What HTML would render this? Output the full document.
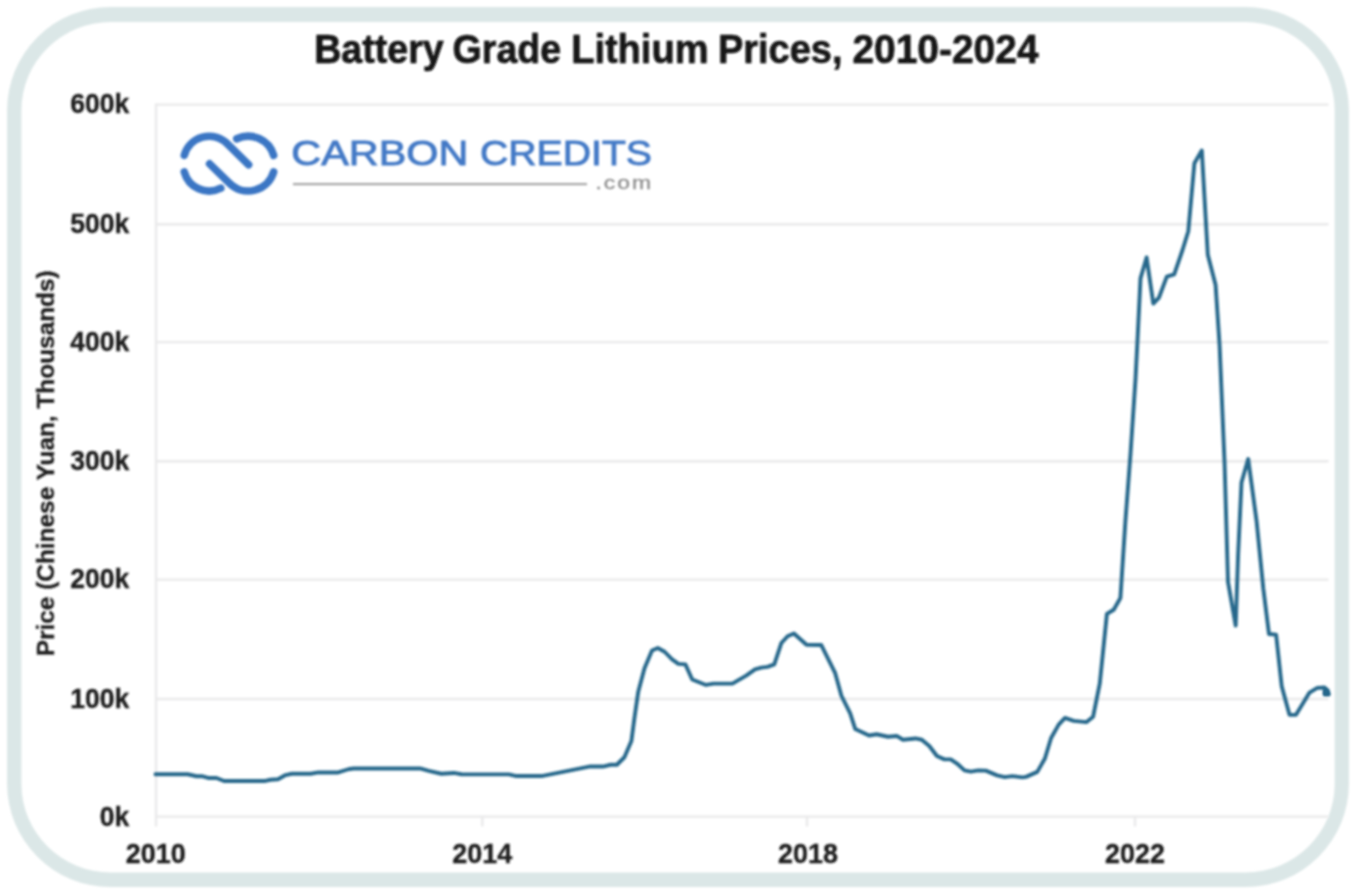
<!DOCTYPE html>
<html>
<head>
<meta charset="utf-8">
<title>Battery Grade Lithium Prices, 2010-2024</title>
<style>
  html, body { margin: 0; padding: 0; background: #ffffff; }
  body { width: 1354px; height: 892px; overflow: hidden; font-family: "Liberation Sans", sans-serif; }
  svg { display: block; }
  text { font-family: "Liberation Sans", sans-serif; }
</style>
</head>
<body>
<svg width="1354" height="892" viewBox="0 0 1354 892">
  <defs>
    <filter id="soft" filterUnits="userSpaceOnUse" x="0" y="0" width="1354" height="892"><feGaussianBlur stdDeviation="1.0"/></filter>
    <filter id="softl" filterUnits="userSpaceOnUse" x="0" y="0" width="1354" height="892"><feGaussianBlur stdDeviation="1.2"/></filter>
    <filter id="soft2" filterUnits="userSpaceOnUse" x="0" y="0" width="1354" height="892"><feGaussianBlur stdDeviation="0.85"/></filter>
    <filter id="softb" filterUnits="userSpaceOnUse" x="0" y="0" width="1354" height="892"><feGaussianBlur stdDeviation="0.8"/></filter>
    <filter id="softg" filterUnits="userSpaceOnUse" x="0" y="0" width="1354" height="892"><feGaussianBlur stdDeviation="1.2"/></filter>
  </defs>
  <rect x="0" y="0" width="1354" height="892" fill="#ffffff"/>
  <!-- rounded frame -->
  <path fill="#dbe7e7" fill-rule="evenodd" filter="url(#softb)" d="M110.6 6.9 H1245.4 A103.5 103.5 0 0 1 1348.9 110.4 V783.6 A103.5 103.5 0 0 1 1245.4 887.1 H110.6 A103.5 103.5 0 0 1 7.1 783.6 V110.4 A103.5 103.5 0 0 1 110.6 6.9 Z M110.6 22.05 H1245.5 A89.2 88.4 0 0 1 1334.7 110.45 V784.0 A89.2 88.4 0 0 1 1245.5 872.4 H110.6 A89.2 88.4 0 0 1 21.4 784.0 V110.45 A89.2 88.4 0 0 1 110.6 22.05 Z"/>

  <!-- grid -->
  <g stroke="#e9e9ea" stroke-width="2.4" filter="url(#softg)">
    <line x1="156" y1="104.6" x2="1328.5" y2="104.6"/>
    <line x1="156" y1="224.3" x2="1328.5" y2="224.3"/>
    <line x1="156" y1="342.1" x2="1328.5" y2="342.1"/>
    <line x1="156" y1="461.2" x2="1328.5" y2="461.2"/>
    <line x1="156" y1="579.6" x2="1328.5" y2="579.6"/>
    <line x1="156" y1="699.0" x2="1328.5" y2="699.0"/>
    <line x1="156" y1="816.65" x2="1328.5" y2="816.65"/>
    <line x1="156" y1="103.5" x2="156" y2="826.5"/>
    <line x1="482.3" y1="816" x2="482.3" y2="826.5"/>
    <line x1="807" y1="816" x2="807" y2="826.5"/>
    <line x1="1135" y1="816" x2="1135" y2="826.5"/>
  </g>

  <!-- title -->
  <g font-size="40" font-weight="700" fill="#121212" stroke="#121212" stroke-width="0.6" filter="url(#soft)">
    <text x="314.17" y="62.5" textLength="129.64" lengthAdjust="spacingAndGlyphs">Battery</text>
    <text x="452.57" y="62.5" textLength="108.65" lengthAdjust="spacingAndGlyphs">Grade</text>
    <text x="571.16" y="62.5" textLength="137.30" lengthAdjust="spacingAndGlyphs">Lithium</text>
    <text x="717.96" y="62.5" textLength="124.58" lengthAdjust="spacingAndGlyphs">Prices,</text>
    <text x="852.40" y="62.5" textLength="186.20" lengthAdjust="spacingAndGlyphs">2010-2024</text>
  </g>

  <!-- y labels -->
  <g font-size="27" font-weight="700" fill="#1e1e1e" stroke="#1e1e1e" stroke-width="0.35" text-anchor="end" filter="url(#soft)">
    <text x="129.3" y="113.4" textLength="59" lengthAdjust="spacingAndGlyphs">600k</text>
    <text x="129.3" y="233.1" textLength="59" lengthAdjust="spacingAndGlyphs">500k</text>
    <text x="129.3" y="350.9" textLength="59" lengthAdjust="spacingAndGlyphs">400k</text>
    <text x="129.3" y="470.0" textLength="59" lengthAdjust="spacingAndGlyphs">300k</text>
    <text x="129.3" y="588.4" textLength="59" lengthAdjust="spacingAndGlyphs">200k</text>
    <text x="129.3" y="707.8" textLength="59" lengthAdjust="spacingAndGlyphs">100k</text>
    <text x="129.3" y="825.5" textLength="29.5" lengthAdjust="spacingAndGlyphs">0k</text>
  </g>

  <!-- x labels -->
  <g font-size="27" font-weight="700" fill="#1e1e1e" stroke="#1e1e1e" stroke-width="0.35" text-anchor="middle" filter="url(#soft)">
    <text x="155.7" y="862.7" textLength="60" lengthAdjust="spacingAndGlyphs">2010</text>
    <text x="482.3" y="862.7" textLength="60" lengthAdjust="spacingAndGlyphs">2014</text>
    <text x="808" y="862.7" textLength="60" lengthAdjust="spacingAndGlyphs">2018</text>
    <text x="1135" y="862.7" textLength="60" lengthAdjust="spacingAndGlyphs">2022</text>
  </g>

  <!-- y axis title -->
  <g filter="url(#soft)"><text transform="translate(54,463.3) rotate(-90)" text-anchor="middle" font-size="23.5" font-weight="700" fill="#1e1e1e" stroke="#1e1e1e" stroke-width="0.3" textLength="386" lengthAdjust="spacingAndGlyphs">Price (Chinese Yuan, Thousands)</text></g>

  <!-- logo -->
  <g filter="url(#soft2)">
    <g fill="none" stroke="#3a76c4" stroke-width="7.6" stroke-linecap="round" stroke-linejoin="round">
      <path d="M184.3 155.3 A25.7 25.7 0 0 1 227.27 143.73 L248.6 164.8"/>
      <path d="M236.8 138.8 A26.5 26.5 0 0 1 273.65 155.35"/>
      <path d="M184.3 172 A25.7 25.7 0 0 0 220.8 188.2"/>
      <path d="M209.6 163.9 L229.46 183.24 A26.5 26.5 0 0 0 273.65 171.85"/>
    </g>
    <text x="291.3" y="164.6" font-size="35" fill="#4379c6" stroke="#4379c6" stroke-width="0.9" textLength="177" lengthAdjust="spacingAndGlyphs">CARBON</text>
    <text x="480" y="164.6" font-size="35" fill="#4379c6" stroke="#4379c6" stroke-width="0.9" textLength="172" lengthAdjust="spacingAndGlyphs">CREDITS</text>
    <rect x="293" y="183" width="294" height="2.2" fill="#a6a6a6"/>
    <text x="595.5" y="189" font-size="17.5" fill="#8c8c8c" stroke="#8c8c8c" stroke-width="0.3" letter-spacing="1.5" textLength="57.5" lengthAdjust="spacingAndGlyphs">.com</text>
  </g>

  <!-- data line -->
  <polyline id="series" filter="url(#softl)" fill="none" stroke="#25678b" stroke-width="3.9" transform="translate(0,0.35)" stroke-linejoin="round" stroke-linecap="round" points="
155.5,773.9 187.7,773.9 196.5,775.9 202.7,775.9 209,777.7 216.5,777.7 224,780.7 264.3,780.7 270.5,779.4 278,778.9 285.6,774.7 291.9,773.4 310.7,773.4 318.3,772.1 338.3,772.1 348.4,768.9 353.4,768.1 420,768.1 428.8,770.6 441.3,773.4 453.9,772.6 461.4,773.9 480,774
508.9,774 516.4,775.7 541.5,775.7 560.4,772 589.2,766.2 603,766.2 610.6,764.4 616.9,764.4 624.4,756.9 631.4,740.6 634.4,718 638.2,691.6 644.5,667.8 652,650.2 657.8,647.7 664.6,651.4 672.1,659 678.4,663.5 685.4,664 692.2,679.1 706,684.6 713.6,683.3 732.4,683.3 746.2,675.3 755,669 761.3,667.3 767.5,666.5 774.3,664 781.4,642.6 787.6,635.9 793.9,633.1 806.5,644.4
821.3,644.7 835.2,672.8 841.4,695.4 850.2,713 855.2,728.6 869.1,735.1 876.6,733.9 887.9,736.4 896.7,735.6 903,739.4 915.5,738.1 921.8,739.4 929.3,745.7 936.9,755.7 944.4,759 950.7,759 957,763.2 964.5,770 970.8,771.3 978.3,770 985.8,770.3 997.1,775 1004.7,776.8 1012.2,775.8 1022.3,777 1026,776.5 1037.3,771.5 1044.9,758.2 1051.1,737.6 1058.7,724.3 1065,717.5 1073.7,720.5 1086.3,721.8 1093.1,716.3 1099.8,683 1106.9,613.6 1113.7,609.4 1120.4,597.6 1125.4,520.9 1130.5,453.6
1135.5,378.9 1137.9,331.8 1140.5,278 1146.6,257.1 1153.3,303.2 1159,297.2 1166.8,276.3 1174.2,274 1182.6,249.4 1188.3,230.9 1194.4,163 1201.8,150.2 1207.8,254.5 1215.6,284.7 1219.6,345.3 1224.6,463.7 1228,581.5 1235.7,625.2 1238.1,554.5 1241.5,482.2 1248.2,458.7 1256.6,520.9 1263.3,588.2 1269,633.6 1276.1,634.3 1281.7,685.8 1289.5,714.5 1296,714.5 1302.4,704 1309.5,692.2 1317.3,687.5 1324.4,687.1 1327.8,690.2 1328.8,694 1324.6,694 1324.8,690.5"/>
  <path d="M1324.4 689.6 L1327 690.4 L1328.8 694.8 L1324.2 694.8 Z" fill="#25678b" stroke="#25678b" stroke-width="1" stroke-linejoin="round" filter="url(#soft)"/>
</svg>
</body>
</html>
